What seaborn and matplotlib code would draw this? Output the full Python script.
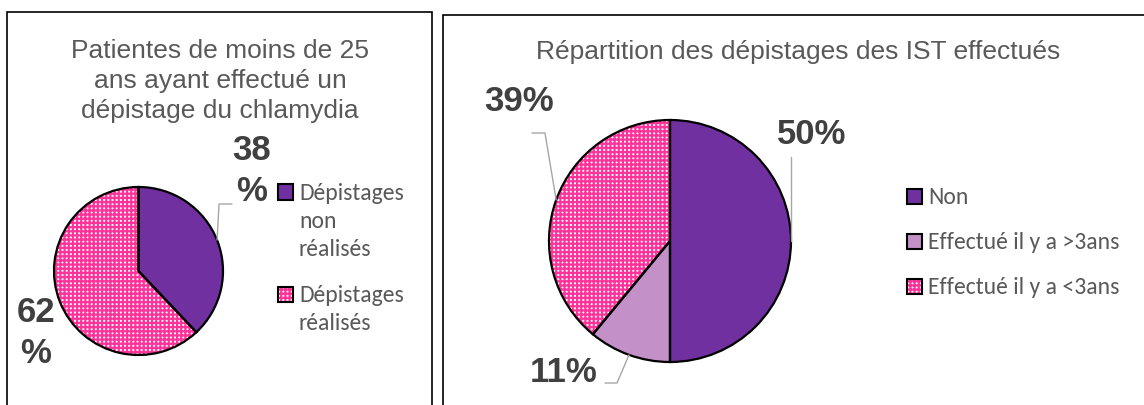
import numpy as np
import matplotlib
matplotlib.use('Agg')
import matplotlib.pyplot as plt
import seaborn as sns
from matplotlib.patches import Rectangle
from matplotlib.lines import Line2D

# données
chlam_titre = 'Patientes de moins de 25\nans ayant effectué un\ndépistage du chlamydia'
chlam_labels = ['Dépistages\nnon\nréalisés', 'Dépistages\nréalisés']
chlam_values = [38, 62]

ist_titre = 'Répartition des dépistages des IST effectués'
ist_labels = ['Non', 'Effectué il y a >3ans', 'Effectué il y a <3ans']
ist_values = [50, 11, 39]

sns.set_theme(style='white')
plt.rcParams['font.family'] = ['Liberation Sans', 'DejaVu Sans']
plt.rcParams['hatch.linewidth'] = 1.6

PURPLE = '#7030A0'
LILAC = '#C490C8'
PINK = '#FF3399'
GREY = '#595959'
DARK = '#404040'
LEAD = '#A6A6A6'
LEG_FONT = ['Carlito', 'Liberation Sans', 'DejaVu Sans']

chlam_styles = [(PURPLE, None), (PINK, '++++')]
ist_styles = [(PURPLE, None), (LILAC, None), (PINK, '++++')]

W, H = 1144, 405
fig = plt.figure(figsize=(W / 100, H / 100), dpi=100)


def fx(x):
    return x / W


def fy(y):
    return 1 - y / H


def rect(x0, y0, x1, y1):
    return [fx(x0), fy(y1), (x1 - x0) / W, (y1 - y0) / H]


def line(pts):
    fig.add_artist(Line2D([fx(p[0]) for p in pts], [fy(p[1]) for p in pts],
                          transform=fig.transFigure, color=LEAD, lw=1))


# cadres des deux graphiques
for x0, y0, x1, y1 in [(7, 12, 432, 430), (443, 15, 1170, 430)]:
    fig.add_artist(Rectangle((fx(x0), fy(y1)), (x1 - x0) / W, (y1 - y0) / H,
                             transform=fig.transFigure, fill=False,
                             edgecolor='black', lw=1.2))


def draw_pie(ax, values, styles):
    wedges, _ = ax.pie(values, startangle=90, counterclock=False,
                       colors=[s[0] for s in styles],
                       wedgeprops=dict(linewidth=0))
    for w, (col, hatch) in zip(wedges, styles):
        w.set_clip_on(False)
        if hatch:
            w.set_facecolor('white')
            w.set_edgecolor(col)
            w.set_hatch(hatch)
    outline, _ = ax.pie(values, startangle=90, counterclock=False,
                        wedgeprops=dict(fill=False, edgecolor='black', linewidth=1.6))
    for w in outline:
        w.set_clip_on(False)
    ax.set_xlim(-1, 1)
    ax.set_ylim(-1, 1)
    ax.set_aspect('auto')
    ax.axis('off')
    # points d'ancrage des étiquettes (milieu de chaque part, sur le bord)
    anchors = []
    for w in wedges:
        mid = np.deg2rad((w.theta1 + w.theta2) / 2)
        px, py = ax.transData.transform((np.cos(mid), np.sin(mid)))
        anchors.append((px, H - py))
    return anchors


def legend_block(x, ys, labels, styles, size=15):
    for y, lab, (col, hatch) in zip(ys, labels, styles):
        xy = (fx(x), fy(y + size / 2))
        fig.add_artist(Rectangle(xy, size / W, size / H, transform=fig.transFigure,
                                 facecolor='white' if hatch else col,
                                 edgecolor=col, hatch=hatch, lw=0))
        fig.add_artist(Rectangle(xy, size / W, size / H, transform=fig.transFigure,
                                 fill=False, edgecolor='black', lw=1.5))
        # y = centre des majuscules de la première ligne
        fig.text(fx(x + size + 6), fy(y - 9), lab, ha='left', va='top',
                 fontsize=17, color=GREY, family=LEG_FONT, linespacing=1.4)


# --- graphique 1 : chlamydia
ax1 = fig.add_axes(rect(54, 187, 223, 355))
a1 = draw_pie(ax1, chlam_values, chlam_styles)
fig.text(fx(220), fy(81), chlam_titre, ha='center', va='center',
         fontsize=19, color=GREY, linespacing=1.32)
pos1 = [(252, 171), (36, 333)]
for v, (tx, ty) in zip(chlam_values, pos1):
    fig.text(fx(tx), fy(ty), f'{v}\n%', ha='center', va='center',
             fontsize=25, fontweight='bold', color=DARK, linespacing=1.3)
line([a1[0], (219, 204), (232, 204)])
legend_block(278, [192, 294], chlam_labels, chlam_styles)

# --- graphique 2 : IST
ax2 = fig.add_axes(rect(549, 120, 791, 362))
a2 = draw_pie(ax2, ist_values, ist_styles)
fig.text(fx(798), fy(52), ist_titre, ha='center', va='center',
         fontsize=19, color=GREY)
pos2 = [(812, 135), (564, 372), (519, 102)]
for v, (tx, ty) in zip(ist_values, pos2):
    fig.text(fx(tx), fy(ty), f'{v}%', ha='center', va='center',
             fontsize=25, fontweight='bold', color=DARK)
line([a2[0], (a2[0][0], 157)])
line([a2[1], (617, 383), (605, 383)])
line([a2[2], (545, 133), (532, 133)])
legend_block(907, [196, 241, 286], ist_labels, ist_styles)

fig.savefig('out.png', dpi=100)
